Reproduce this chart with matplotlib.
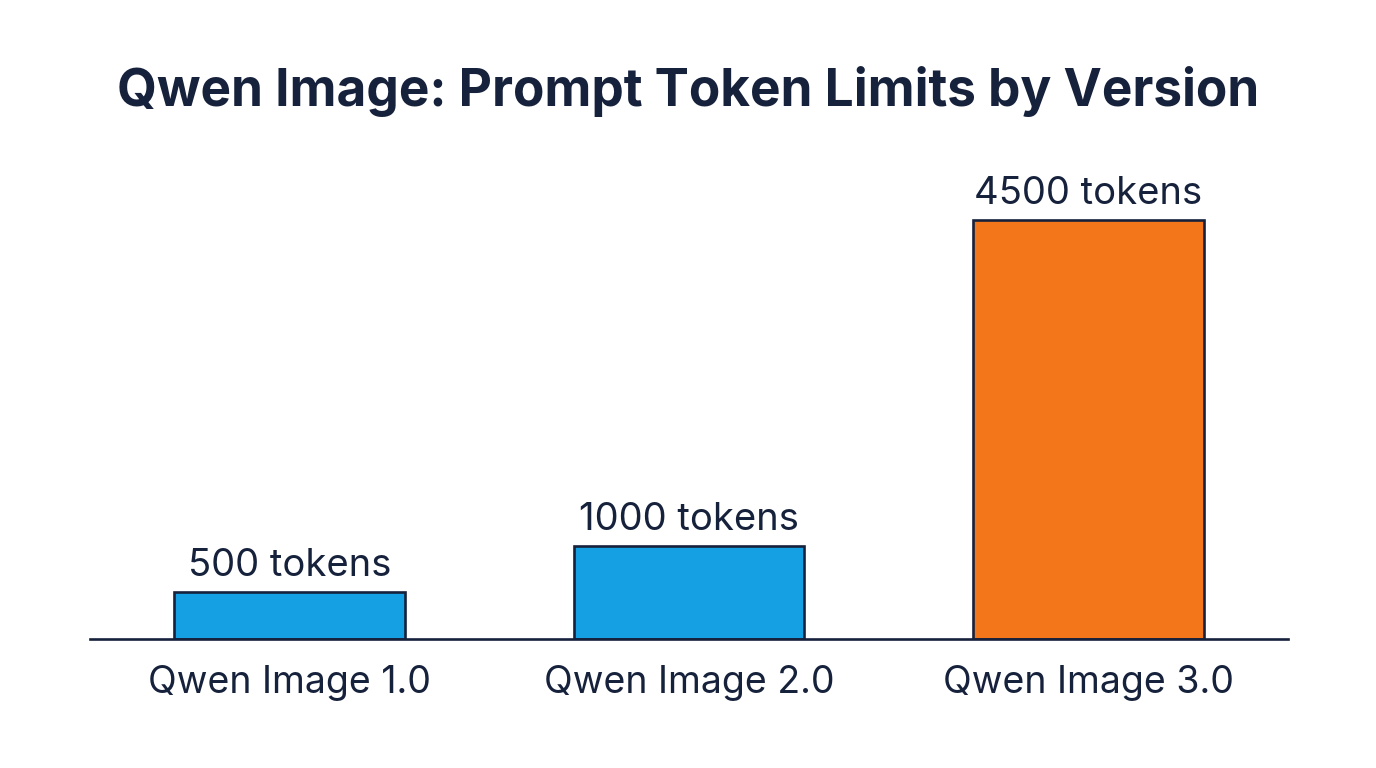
import matplotlib.pyplot as plt

versions = ['Qwen Image 1.0', 'Qwen Image 2.0', 'Qwen Image 3.0']
token_limits = [500, 1000, 4500]
bar_colors = ['#14A0E2', '#14A0E2', '#F4761B']

navy = '#16213B'
plt.rcParams['font.family'] = ['Inter', 'DejaVu Sans']

fig = plt.figure(figsize=(13.76, 7.68), dpi=100)
ax = fig.add_axes([90 / 1376, 129 / 768, 1198 / 1376, 465.6 / 768])

x = range(len(versions))
ax.bar(x, token_limits, width=0.578, color=bar_colors, edgecolor=navy, linewidth=1.9, zorder=2)

for i, v in zip(x, token_limits):
    ax.annotate(f'{v} tokens', (i, v), xytext=(0, 11.5), textcoords='offset points',
                ha='center', va='baseline', fontsize=27.5, color=navy)

ax.set_xlim(-0.5, 2.5)
ax.set_ylim(0, 5000)
ax.set_xticks(list(x))
ax.set_xticklabels(versions, fontsize=27, color=navy)
ax.tick_params(axis='x', length=0, pad=19)
ax.set_yticks([])
for side in ['top', 'right', 'left']:
    ax.spines[side].set_visible(False)
ax.spines['bottom'].set_color(navy)
ax.spines['bottom'].set_linewidth(1.9)
ax.spines['bottom'].set_zorder(3)

fig.text(0.5, 1 - 106 / 768, 'Qwen Image: Prompt Token Limits by Version', ha='center', va='baseline',
         fontsize=37, fontweight='bold', color=navy)

fig.savefig('out.png', dpi=100, facecolor='white')
